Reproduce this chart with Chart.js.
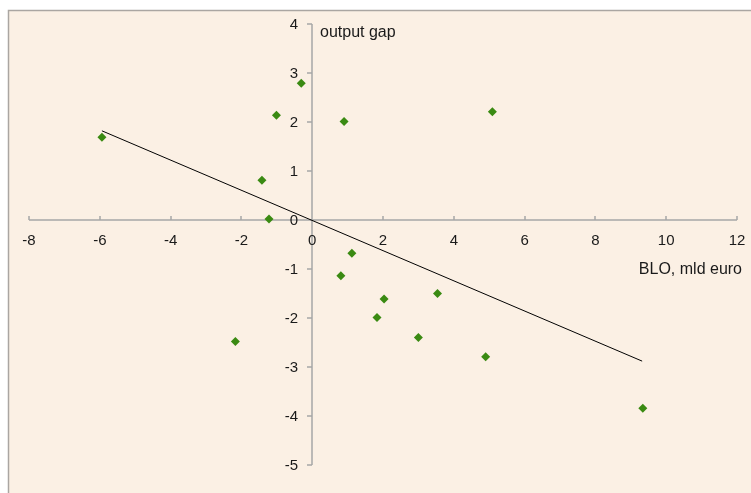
<!DOCTYPE html>
<html>
<head>
<meta charset="utf-8">
<script src="https://cdn.jsdelivr.net/npm/chart.js@4"></script>
<style>
html,body{margin:0;padding:0;background:#ffffff;}
#c{display:block;}
</style>
</head>
<body>
<canvas id="c" width="751" height="493"></canvas>
<script>
// Data
const bloValues = [-5.94, -1.42, -1.22, -1.01, -0.31, 0.90, 5.09, -2.17, 1.12, 0.81, 1.83, 2.03, 3.54, 3.00, 4.90, 9.34];
const gapValues = [1.69, 0.81, 0.02, 2.14, 2.79, 2.01, 2.21, -2.48, -0.68, -1.14, -1.99, -1.61, -1.50, -2.40, -2.79, -3.84];
const trendX = [-5.94, 9.32];
const trendY = [1.82, -2.88];
const xTicks = [-8, -6, -4, -2, 0, 2, 4, 6, 8, 10, 12];
const yTicks = [4, 3, 2, 1, 0, -1, -2, -3, -4, -5];
const xTitle = 'BLO, mld euro';
const yTitle = 'output gap';

const points = bloValues.map((x, i) => ({x: x, y: gapValues[i]}));
const trend = trendX.map((x, i) => ({x: x, y: trendY[i]}));

const FONT = '"Liberation Sans", Arial, sans-serif';
const AXIS = '#a6a6a6';
const TEXT = '#1a1a1a';

const axesPlugin = {
  id: 'crossAxes',
  beforeDraw(chart) {
    const ctx = chart.ctx;
    ctx.save();
    ctx.fillStyle = '#ffffff';
    ctx.fillRect(0, 0, chart.width, chart.height);
    ctx.fillStyle = '#fbf0e4';
    ctx.fillRect(8, 10, chart.width - 8, chart.height - 10);
    ctx.strokeStyle = '#aaa6a2';
    ctx.lineWidth = 1.5;
    ctx.beginPath();
    ctx.moveTo(8.5, chart.height);
    ctx.lineTo(8.5, 10.5);
    ctx.lineTo(chart.width, 10.5);
    ctx.stroke();
    ctx.restore();
  },
  beforeDatasetsDraw(chart) {
    const ctx = chart.ctx;
    const xs = chart.scales.x, ys = chart.scales.y;
    const x0 = Math.round(xs.getPixelForValue(0));
    const y0 = Math.round(ys.getPixelForValue(0));
    const xMin = xs.getPixelForValue(xTicks[0]);
    const xMax = xs.getPixelForValue(xTicks[xTicks.length - 1]);
    const yTop = ys.getPixelForValue(yTicks[0]);
    const yBot = ys.getPixelForValue(yTicks[yTicks.length - 1]);
    ctx.save();
    ctx.strokeStyle = AXIS;
    ctx.lineWidth = 1.5;
    ctx.beginPath();
    ctx.moveTo(xMin, y0); ctx.lineTo(xMax, y0);
    ctx.moveTo(x0, yTop); ctx.lineTo(x0, yBot);
    xTicks.forEach(v => {
      const px = Math.round(xs.getPixelForValue(v));
      ctx.moveTo(px, y0); ctx.lineTo(px, y0 - 4);
    });
    yTicks.forEach(v => {
      const py = Math.round(ys.getPixelForValue(v));
      ctx.moveTo(x0, py); ctx.lineTo(x0 - 5, py);
    });
    ctx.stroke();

    ctx.fillStyle = TEXT;
    ctx.font = '15px ' + FONT;
    ctx.textAlign = 'center';
    ctx.textBaseline = 'middle';
    xTicks.forEach(v => {
      ctx.fillText(String(v), xs.getPixelForValue(v), y0 + 21);
    });
    ctx.textAlign = 'right';
    yTicks.forEach(v => {
      ctx.fillText(String(v), x0 - 14, ys.getPixelForValue(v) + 1);
    });
    ctx.font = '16px ' + FONT;
    ctx.textAlign = 'left';
    ctx.fillText(yTitle, x0 + 8, 33);
    ctx.textAlign = 'right';
    ctx.fillText(xTitle, xMax + 5, y0 + 50);
    ctx.restore();
  }
};

new Chart(document.getElementById('c'), {
  type: 'scatter',
  data: {
    datasets: [
      {
        label: 'trend',
        data: trend,
        showLine: true,
        borderColor: '#000000',
        borderWidth: 1,
        pointRadius: 0,
        pointHoverRadius: 0,
        fill: false,
        order: 1
      },
      {
        label: 'output gap',
        data: points,
        pointStyle: 'rectRot',
        pointRadius: 4.5,
        pointHoverRadius: 4.5,
        backgroundColor: '#3a8a12',
        borderColor: '#3a8a12',
        borderWidth: 0,
        order: 0
      }
    ]
  },
  options: {
    responsive: false,
    animation: false,
    devicePixelRatio: 1,
    layout: { padding: { left: 29, top: 24, right: 14, bottom: 28 } },
    plugins: { legend: { display: false }, tooltip: { enabled: false } },
    scales: {
      x: { type: 'linear', min: -8, max: 12, display: false },
      y: { type: 'linear', min: -5, max: 4, display: false }
    }
  },
  plugins: [axesPlugin]
});
</script>
</body>
</html>
